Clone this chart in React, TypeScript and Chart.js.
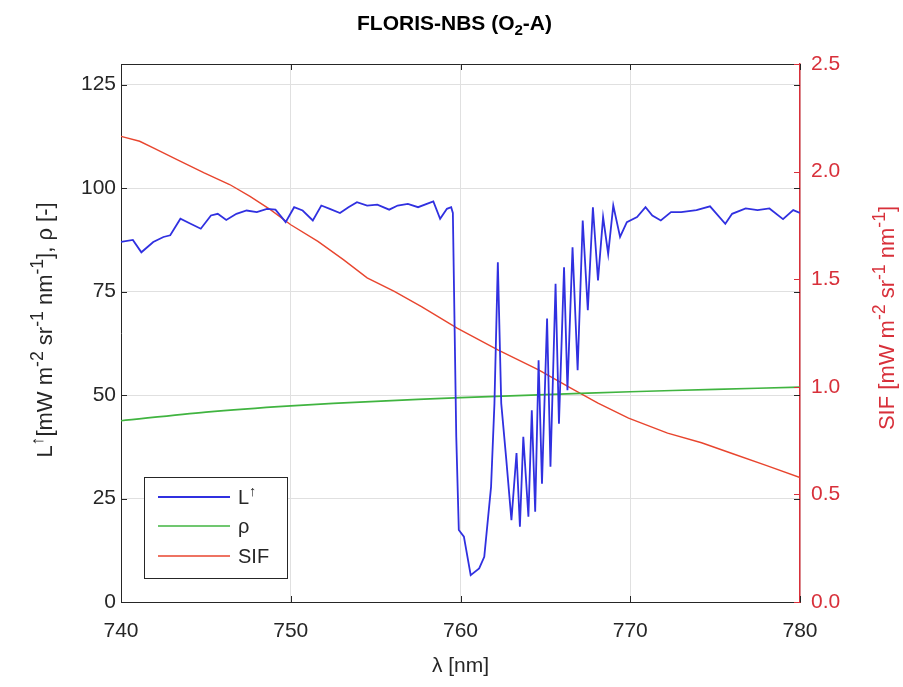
import React, { useEffect, useRef } from "react";
import { Chart, registerables } from "chart.js";

Chart.register(...registerables);

// ---- Data ----
const titleParts = ["FLORIS-NBS (O", "2", "-A)"];
const xTitle = "λ [nm]";

const lWavelength = [
  740.0, 740.7, 741.2, 741.9, 742.5, 742.9, 743.5, 744.1, 744.7, 745.3, 745.7, 746.2, 746.8, 747.4,
  748.0, 748.6, 749.1, 749.7, 750.2, 750.7, 751.3, 751.8, 752.3, 752.9, 753.4, 753.9, 754.5, 755.1,
  755.8, 756.3, 756.9, 757.5, 758.4, 758.8, 759.2, 759.45, 759.55, 759.75, 759.9, 760.2, 760.6, 761.1,
  761.4, 761.8, 762.0, 762.2, 762.4, 762.7, 763.0, 763.3, 763.5, 763.7, 764.0, 764.2, 764.4, 764.6,
  764.8, 765.1, 765.3, 765.6, 765.8, 766.1, 766.3, 766.6, 766.9, 767.2, 767.5, 767.8, 768.1, 768.4,
  768.7, 769.0, 769.4, 769.8, 770.4, 770.9, 771.3, 771.8, 772.4, 773.0, 773.9, 774.7, 775.6, 776.0,
  776.8, 777.5, 778.2, 779.0, 779.6, 780.0,
];
const lRadiance = [
  87.0, 87.5, 84.5, 87.0, 88.2, 88.6, 92.6, 91.4, 90.2, 93.4, 93.8, 92.3, 93.8, 94.6,
  94.2, 95.0, 94.8, 91.8, 95.4, 94.6, 92.2, 95.8, 95.0, 94.0, 95.4, 96.6, 95.8, 96.0,
  94.8, 95.8, 96.2, 95.4, 96.8, 92.6, 95.0, 95.4, 94.0, 40.0, 17.4, 15.8, 6.5, 8.1,
  10.9, 27.8, 48.0, 82.1, 48.0, 34.3, 19.8, 36.0, 18.2, 39.9, 20.6, 46.3, 21.8, 58.4,
  28.6, 68.5, 32.7, 76.9, 43.1, 80.9, 51.2, 85.7, 56.0, 92.2, 70.5, 95.4, 77.7, 93.0,
  84.1, 95.8, 88.2, 91.8, 93.0, 95.4, 93.4, 92.2, 94.2, 94.2, 94.7, 95.6, 91.4, 93.8,
  95.1, 94.7, 95.1, 92.5, 94.7, 94.0,
];

const rhoWavelength = [740, 745, 750, 755, 760, 765, 770, 775, 780];
const rhoValues = [43.8, 45.9, 47.4, 48.5, 49.4, 50.1, 50.8, 51.4, 51.9];

const sifWavelength = [
  740.0, 741.1, 741.9, 743.3, 744.9, 746.4, 747.6, 748.8, 750.0, 751.6, 753.1, 754.5, 756.1,
  757.7, 759.8, 762.2, 764.6, 766.5, 768.1, 769.9, 772.2, 774.2, 776.0, 778.0, 780.0,
];
const sifValues = [
  2.164, 2.141, 2.11, 2.056, 1.994, 1.94, 1.885, 1.823, 1.753, 1.676, 1.591, 1.506, 1.443,
  1.373, 1.273, 1.172, 1.079, 0.994, 0.924, 0.854, 0.785, 0.74, 0.69, 0.635, 0.578,
];

const seriesLabels = ["L↑", "ρ", "SIF"];
const xTicks = [740, 750, 760, 770, 780];
const yTicks = [0, 25, 50, 75, 100, 125];
const y2Ticks = [0, 0.5, 1.0, 1.5, 2.0, 2.5];

// ---- Styles ----
const FONT = "'Liberation Sans', Arial, Helvetica, sans-serif";
const AXIS = "#262626";
const RED_AXIS = "#d8303a";
const BLUE = "#3030e0";
const GREEN = "#40b440";
const RED = "#e8452e";
const GRID = "#e0e0e0";
const TICK_SIZE = 21;
const LABEL_SIZE = 22;

type Seg = { t: string; k?: "sup" | "sub" };

function drawRich(
  ctx: CanvasRenderingContext2D,
  segs: Seg[],
  x: number,
  y: number,
  size: number,
  color: string,
  weight: string,
  align: "center" | "left",
  rotate: boolean,
  subRatio = 0.72
) {
  ctx.save();
  const fontFor = (s: Seg) => `${weight} ${s.k ? size * subRatio : size}px ${FONT}`;
  let w = 0;
  for (const s of segs) {
    ctx.font = fontFor(s);
    w += ctx.measureText(s.t).width;
  }
  ctx.translate(x, y);
  if (rotate) ctx.rotate(-Math.PI / 2);
  ctx.fillStyle = color;
  ctx.textBaseline = "alphabetic";
  ctx.textAlign = "left";
  let cx = align === "center" ? -w / 2 : 0;
  const base = size * 0.36;
  for (const s of segs) {
    ctx.font = fontFor(s);
    const dy = s.k === "sup" ? -size * 0.42 : s.k === "sub" ? size * 0.28 : 0;
    ctx.fillText(s.t, cx, base + dy);
    cx += ctx.measureText(s.t).width;
  }
  ctx.restore();
}

function labelSegs(label: string): Seg[] {
  if (label.includes("↑")) return [{ t: label.replace("↑", "") }, { t: "↑", k: "sup" }];
  return [{ t: label }];
}

const decorPlugin = {
  id: "decor",
  afterDraw(chart: any) {
    const ctx: CanvasRenderingContext2D = chart.ctx;
    const { left, right, top, bottom } = chart.chartArea;
    const xs = chart.scales.x;
    const ys = chart.scales.y;
    const y2 = chart.scales.y1;
    ctx.save();
    // top border
    ctx.strokeStyle = AXIS;
    ctx.lineWidth = 1;
    ctx.beginPath();
    ctx.moveTo(left, top + 0.5);
    ctx.lineTo(right, top + 0.5);
    ctx.stroke();
    // inward ticks
    const tl = 6;
    ctx.beginPath();
    for (const v of xTicks) {
      const px = Math.round(xs.getPixelForValue(v)) + 0.5;
      ctx.moveTo(px, bottom);
      ctx.lineTo(px, bottom - tl);
      ctx.moveTo(px, top);
      ctx.lineTo(px, top + tl);
    }
    for (const v of yTicks) {
      const py = Math.round(ys.getPixelForValue(v)) + 0.5;
      ctx.moveTo(left, py);
      ctx.lineTo(left + tl, py);
      ctx.moveTo(right, py);
      ctx.lineTo(right - tl, py);
    }
    ctx.stroke();
    ctx.strokeStyle = RED_AXIS;
    ctx.beginPath();
    for (const v of y2Ticks) {
      const py = Math.round(y2.getPixelForValue(v)) + 0.5;
      ctx.moveTo(right, py);
      ctx.lineTo(right - tl, py);
    }
    ctx.stroke();

    // titles
    const cxm = (left + right) / 2;
    drawRich(ctx, [{ t: titleParts[0] }, { t: titleParts[1], k: "sub" }, { t: titleParts[2] }], cxm - 6, 22, 21, "#000", "bold", "center", false);
    drawRich(ctx, [{ t: xTitle }], cxm, 664, LABEL_SIZE - 1, AXIS, "normal", "center", false);
    const unit: Seg[] = [
      { t: "[mW m" }, { t: "-2", k: "sup" }, { t: " sr" }, { t: "-1", k: "sup" }, { t: " nm" }, { t: "-1", k: "sup" }, { t: "]" },
    ];
    drawRich(ctx, [{ t: "L" }, { t: "↑", k: "sup" }, ...unit, { t: ", ρ [-]" }], 44, 330, LABEL_SIZE, AXIS, "normal", "center", true, 0.8);
    drawRich(ctx, [{ t: "SIF " }, ...unit], 886, 318, LABEL_SIZE, RED_AXIS, "normal", "center", true, 0.8);

    // legend
    const lx = 144, ly = 477, lw = 143, lh = 101;
    ctx.fillStyle = "#fff";
    ctx.fillRect(lx, ly, lw, lh);
    ctx.strokeStyle = AXIS;
    ctx.lineWidth = 1;
    ctx.strokeRect(lx + 0.5, ly + 0.5, lw, lh);
    const rows = [497, 526, 556];
    chart.data.datasets.forEach((ds: any, i: number) => {
      ctx.strokeStyle = ds.borderColor;
      ctx.lineWidth = ds.borderWidth;
      ctx.beginPath();
      ctx.moveTo(158, rows[i]);
      ctx.lineTo(230, rows[i]);
      ctx.stroke();
      drawRich(ctx, labelSegs(ds.label), 238, rows[i], 20, AXIS, "normal", "left", false);
    });
    ctx.restore();
  },
};

export default function App() {
  const ref = useRef<HTMLCanvasElement | null>(null);
  useEffect(() => {
    if (!ref.current) return;
    const toPts = (xs: number[], ys: number[]) => xs.map((x, i) => ({ x, y: ys[i] }));
    const chart = new Chart(ref.current, {
      type: "line",
      data: {
        datasets: [
          { label: seriesLabels[0], data: toPts(lWavelength, lRadiance), borderColor: BLUE, borderWidth: 1.8, pointRadius: 0, tension: 0, yAxisID: "y" },
          { label: seriesLabels[1], data: toPts(rhoWavelength, rhoValues), borderColor: GREEN, borderWidth: 1.7, pointRadius: 0, tension: 0.3, yAxisID: "y" },
          { label: seriesLabels[2], data: toPts(sifWavelength, sifValues), borderColor: RED, borderWidth: 1.4, pointRadius: 0, tension: 0, yAxisID: "y1" },
        ],
      },
      options: {
        responsive: false,
        animation: false,
        layout: { padding: { top: 64, left: 0, right: 0, bottom: 0 } },
        plugins: { legend: { display: false }, title: { display: false }, tooltip: { enabled: false } },
        scales: {
          x: {
            type: "linear",
            min: 740,
            max: 780,
            afterBuildTicks: (s: any) => { s.ticks = xTicks.map((v) => ({ value: v })); },
            afterFit: (s: any) => { s.height = 85; },
            ticks: { font: { family: FONT, size: TICK_SIZE }, color: AXIS, padding: 17, maxRotation: 0 },
            grid: { color: GRID, drawTicks: false },
            border: { color: AXIS, width: 1 },
          },
          y: {
            type: "linear",
            position: "left",
            min: 0,
            max: 130,
            afterBuildTicks: (s: any) => { s.ticks = yTicks.map((v) => ({ value: v })); },
            afterFit: (s: any) => { s.width = 121; },
            ticks: { font: { family: FONT, size: TICK_SIZE }, color: AXIS, padding: 5 },
            grid: { color: GRID, drawTicks: false },
            border: { color: AXIS, width: 1 },
          },
          y1: {
            type: "linear",
            position: "right",
            min: 0,
            max: 2.5,
            afterBuildTicks: (s: any) => { s.ticks = y2Ticks.map((v) => ({ value: v })); },
            afterFit: (s: any) => { s.width = 103; },
            ticks: { font: { family: FONT, size: TICK_SIZE }, color: RED_AXIS, padding: 11, callback: (v: any) => Number(v).toFixed(1) },
            grid: { display: false, drawTicks: false },
            border: { color: RED_AXIS, width: 1.5 },
          },
        },
      },
      plugins: [decorPlugin],
    } as any);
    return () => chart.destroy();
  }, []);
  return (
    <div style={{ position: "absolute", left: 0, top: 0, width: 903, height: 687, background: "#fff" }}>
      <canvas ref={ref} width={903} height={687} />
    </div>
  );
}
